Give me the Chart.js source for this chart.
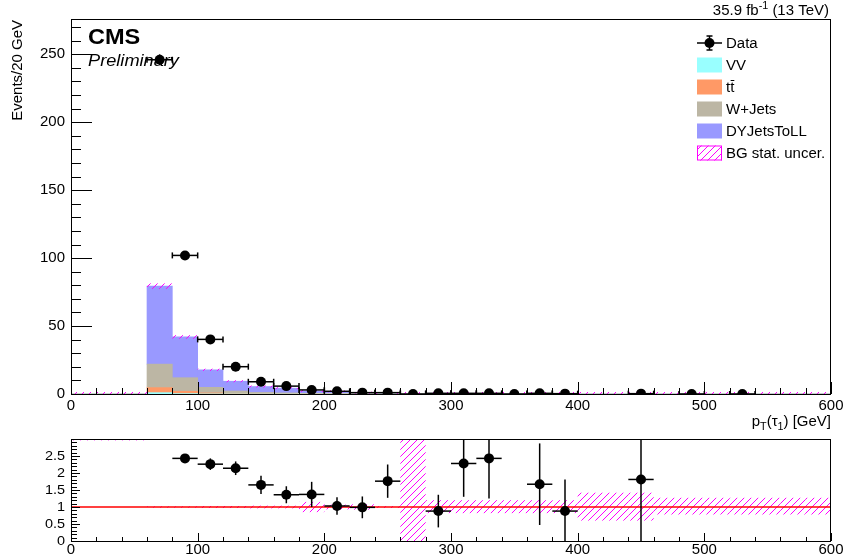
<!DOCTYPE html>
<html><head><meta charset="utf-8">
<script src="https://cdn.jsdelivr.net/npm/chart.js@4.4.0/dist/chart.umd.min.js"></script>
<style>
html,body{margin:0;padding:0;background:#fff;}
body{width:846px;height:558px;position:relative;overflow:hidden;}
canvas{position:absolute;left:0;display:block;}
#main{top:0;} #ratio{top:430px;}
</style></head><body>
<canvas id="main" width="846" height="430"></canvas>
<canvas id="ratio" width="846" height="128"></canvas>
<script>
// ---------------- DATA ----------------
const binCenters = [10,30,50,70,90,110,130,150,170,190,210,230,250,270,290,310,330,350,370,390,410,430,450,470,490,510,530,550,570,590];
const binHalfWidth = 10;
const vv    = [0,0,0,1.0,0.3,0.1,0.1,0.05,0.05,0,0,0,0,0,0,0,0,0,0,0,0,0,0,0,0,0,0,0,0,0];
const ttbar = [0,0,0,3.7,1.7,0.7,0.3,0.2,0.15,0.1,0.05,0.05,0,0,0,0,0,0,0,0,0,0,0,0,0,0,0,0,0,0];
const wjets = [0,0,0,17.3,10,4.1,1.8,0.9,0.6,0.4,0.3,0.15,0.1,0,0,0,0,0,0,0,0,0,0,0,0,0,0,0,0,0];
const dyjets= [0,0,0,57.4,30,12.9,7.2,4.35,3.5,1.7,1.6,0.8,0.45,0.03,0.57,0.22,0.21,0.15,0.3,0.28,0.1,0.1,0.14,0.08,0.08,0.08,0.08,0.08,0.08,0.08];
const mcStatErr = [0,0,0,2.0,1.3,0.8,0.5,0.3,0.25,0.3,0.12,0.1,0.05,0.05,0.1,0.05,0.05,0.04,0.06,0.06,0.04,0.04,0.06,0.03,0.03,0.03,0.03,0.03,0.03,0.03];

const dataX   = [70,90,110,130,150,170,190,210,230,250,270,290,310,330,350,370,390,450,490,530];
const dataY   = [246,102,40.2,20.1,9.0,5.8,3.0,2.0,1.0,1.0,0,0.5,0.5,0.5,0,0.5,0.25,0.25,0,0];
const dataErr = [4.0,1.9,1.2,0.8,0.6,0.5,0.5,0.8,0.6,0.6,0.3,0.5,0.5,0.5,0.3,0.5,0.25,0.25,0.3,0.3];

const ratioX     = [90,110,130,150,170,190,210,230,250,290,310,330,370,390,450];
const ratioY     = [2.43,2.26,2.14,1.65,1.36,1.37,1.03,0.99,1.76,0.88,2.28,2.43,1.67,0.88,1.81];
const ratioErrLo = [0.12,0.17,0.2,0.27,0.25,0.37,0.26,0.32,0.49,0.48,0.98,1.18,1.2,0.93,1.81];
const ratioErrHi = [0.12,0.17,0.2,0.27,0.25,0.37,0.26,0.32,0.49,0.48,1.5,1.5,1.2,0.93,1.9];
const bandLo = [2.96,2.96,2.96,0.98,0.98,0.97,0.97,0.96,0.96,0.85,0.93,0.92,0.97,0,0.82,0.82,0.82,0.82,0.82,0.82,0.6,0.6,0.6,0.78,0.78,0.78,0.78,0.78,0.78,0.78];
const bandHi = [3.3,3.3,3.3,1.02,1.02,1.03,1.03,1.04,1.04,1.15,1.07,1.08,1.03,3.3,1.2,1.2,1.2,1.2,1.2,1.2,1.42,1.42,1.42,1.27,1.27,1.27,1.27,1.27,1.27,1.27];

const mainYTicks = [0,50,100,150,200,250];
const xTicks = [0,100,200,300,400,500,600];
const ratioYTicks = [0,0.5,1,1.5,2,2.5];
const ratioYLabels = ['0','0.5','1','1.5','2','2.5'];

const legendLabels = ['Data','VV','tt','W+Jets','DYJetsToLL','BG stat. uncer.'];
// -----------------------------------------------------------------------

const FONT = '"Liberation Sans", Arial, Helvetica, sans-serif';
const HS = 1.07;
const COL = {vv:'#99ffff', tt:'#ff9966', w:'#bcb6a4', dy:'#9999ff', hatch:'#ff00ff'};

function drawText(ctx, s, x, y, size, o={}) {
  const align=o.align||'left', base=o.baseline||'alphabetic';
  ctx.save();
  ctx.font = `${o.style||''} ${o.weight||''} ${size}px ${FONT}`;
  ctx.fillStyle = o.color||'#000'; ctx.textBaseline = base; ctx.textAlign='left';
  const w = ctx.measureText(s).width*HS;
  const x0 = align==='right'? x-w : align==='center'? x-w/2 : x;
  ctx.translate(x0,y); ctx.scale(HS,1); ctx.fillText(s,0,0);
  ctx.restore();
  return w;
}
function drawRich(ctx, parts, x, y, size, align) {
  ctx.save();
  const items = parts.map(p=>{
    const sz = p[1] ? size*0.72 : size;
    ctx.font = `${sz}px ${FONT}`;
    return {t:p[0], k:p[1], sz, w:ctx.measureText(p[0]).width*HS};
  });
  ctx.restore();
  const tot = items.reduce((a,b)=>a+b.w,0);
  let cx = align==='right'? x-tot : x;
  items.forEach(it=>{
    const dy = it.k==='sub' ? size*0.3 : it.k==='sup' ? -size*0.4 : 0;
    drawText(ctx, it.t, cx, y+dy, it.sz);
    cx += it.w;
  });
}
function makeHatch(ctx) {
  const n=7;
  const c = document.createElement('canvas'); c.width=n; c.height=n;
  const g = c.getContext('2d'); g.strokeStyle=COL.hatch; g.lineWidth=1;
  g.beginPath(); g.moveTo(0,n); g.lineTo(n,0); g.moveTo(-1,1); g.lineTo(1,-1); g.moveTo(n-1,n+1); g.lineTo(n+1,n-1); g.stroke();
  return ctx.createPattern(c,'repeat');
}
function line(ctx,x1,y1,x2,y2){ctx.beginPath();ctx.moveTo(x1,y1);ctx.lineTo(x2,y2);ctx.stroke();}

const bar = (arr,label,color)=>({type:'bar',label,stack:'mc',data:binCenters.map((c,i)=>({x:c,y:arr[i]})),
  backgroundColor:color,borderWidth:0,barPercentage:1,categoryPercentage:1});

// ---------------- main panel ----------------
const mainPlugin = {
  id:'mainDecor',
  beforeDatasetDraw(chart,args){
    if(args.index!==0) return;
    const {ctx,chartArea:a,scales:{x,y}} = chart;
    ctx.save(); ctx.beginPath(); ctx.rect(a.left,a.top,a.right-a.left,a.bottom-a.top+1); ctx.clip();
    ctx.fillStyle = makeHatch(ctx);
    binCenters.forEach((c,i)=>{
      const tot = vv[i]+ttbar[i]+wjets[i]+dyjets[i];
      let yt = y.getPixelForValue(tot+mcStatErr[i]), yb = y.getPixelForValue(tot-mcStatErr[i]);
      if (yb-yt<2){const m=(yt+yb)/2; yt=m-1; yb=m+1; if(yb>a.bottom){yb=a.bottom;yt=a.bottom-2;}}
      const xl = x.getPixelForValue(c-binHalfWidth), xr = x.getPixelForValue(c+binHalfWidth);
      ctx.fillRect(xl,yt,xr-xl,yb-yt);
    });
    ctx.restore();
  },
  afterDatasetsDraw(chart){
    const {ctx,chartArea:a,scales:{x,y}} = chart;
    ctx.save(); ctx.beginPath(); ctx.rect(a.left,a.top,a.right-a.left,a.bottom-a.top); ctx.clip();
    ctx.strokeStyle='#000'; ctx.lineWidth=1.5;
    dataX.forEach((c,i)=>{
      const px=x.getPixelForValue(c), py=y.getPixelForValue(dataY[i]);
      const xl=x.getPixelForValue(c-binHalfWidth), xr=x.getPixelForValue(c+binHalfWidth);
      line(ctx,xl,py,xr,py); line(ctx,xl,py-3,xl,py+3); line(ctx,xr,py-3,xr,py+3);
      const yt=y.getPixelForValue(dataY[i]+dataErr[i]), yb=y.getPixelForValue(dataY[i]-dataErr[i]);
      line(ctx,px,yt,px,yb);
    });
    ctx.restore();
  },
  afterDraw(chart){
    const {ctx,chartArea:a,scales:{x,y}} = chart;
    ctx.save();
    ctx.strokeStyle='#000'; ctx.lineWidth=1;
    ctx.strokeRect(a.left+0.5,a.top+0.5,a.right-a.left-1,a.bottom-a.top);
    for(let v=0; v<=270; v+=10){
      const py=Math.round(y.getPixelForValue(v))+0.5, L = v%50===0?21:10;
      line(ctx,a.left,py,a.left+L,py);
    }
    for(let v=0; v<=600; v+=20){
      const px=Math.round(x.getPixelForValue(v))+0.5, L = v%100===0?12:6;
      line(ctx,px,a.bottom,px,a.bottom-L);
    }
    mainYTicks.forEach(v=>drawText(ctx,String(v),65,y.getPixelForValue(v),14,{align:'right',baseline:'middle'}));
    xTicks.forEach(v=>drawText(ctx,String(v),x.getPixelForValue(v),406,14,{align:'center',baseline:'middle'}));
    drawRich(ctx,[['p',''],['T','sub'],['(τ',''],['1','sub'],[') [GeV]','']],831,426,14,'right');
    ctx.save(); ctx.translate(18,20); ctx.rotate(-Math.PI/2);
    drawText(ctx,'Events/20 GeV',0,0,14,{align:'right',baseline:'middle'});
    ctx.restore();
    drawText(ctx,'CMS',88,44,22,{weight:'bold'});
    drawText(ctx,'Preliminary',88,66,17,{style:'italic'});
    drawRich(ctx,[['35.9 fb',''],['-1','sup'],[' (13 TeV)','']],829,15,14,'right');
    // legend
    const rows=[43,65,87,109,131,153], bx=697, bw=25, bh=15, tx=726;
    let yc=rows[0];
    ctx.lineWidth=1.5; line(ctx,bx,yc,bx+bw,yc); line(ctx,bx+bw/2,yc-7,bx+bw/2,yc+7);
    line(ctx,bx+bw/2-3,yc-7,bx+bw/2+3,yc-7); line(ctx,bx+bw/2-3,yc+7,bx+bw/2+3,yc+7);
    ctx.fillStyle='#000'; ctx.beginPath(); ctx.arc(bx+bw/2,yc,5,0,Math.PI*2); ctx.fill();
    const fills=[COL.vv,COL.tt,COL.w,COL.dy];
    fills.forEach((f,i)=>{ctx.fillStyle=f; ctx.fillRect(bx,rows[i+1]-bh/2,bw,bh);});
    yc=rows[5];
    ctx.fillStyle='#fff'; ctx.fillRect(bx,yc-bh/2,bw,bh);
    ctx.fillStyle=makeHatch(ctx); ctx.fillRect(bx,yc-bh/2,bw,bh);
    ctx.strokeStyle=COL.hatch; ctx.lineWidth=1; ctx.strokeRect(bx+0.5,yc-bh/2+0.5,bw-1,bh-1);
    ctx.strokeStyle='#000';
    legendLabels.forEach((s,i)=>{
      const w = drawText(ctx,s,tx,rows[i]+5,14);
      if(s==='tt'){ const half=w/2; ctx.lineWidth=1; line(ctx,tx+half+0.5,rows[i]-6.5,tx+w,rows[i]-6.5); }
    });
    ctx.restore();
  }
};

new Chart(document.getElementById('main'),{
  type:'bar',
  data:{datasets:[
    {type:'scatter',label:'Data',stack:'data',data:dataX.map((c,i)=>({x:c,y:dataY[i]})),
     backgroundColor:'#000',borderWidth:0,pointRadius:5,showLine:false},
    bar(vv,'VV',COL.vv), bar(ttbar,'tt',COL.tt), bar(wjets,'W+Jets',COL.w), bar(dyjets,'DYJetsToLL',COL.dy)
  ]},
  options:{
    responsive:false, animation:false, events:[],
    layout:{padding:{top:19,right:15,left:0,bottom:0}},
    plugins:{legend:{display:false},tooltip:{enabled:false}},
    scales:{
      x:{type:'linear',min:0,max:600,offset:false,stacked:true,grid:{display:false,drawTicks:false},border:{display:false},ticks:{display:false},afterFit(s){s.height=36;}},
      y:{type:'linear',min:0,max:276,stacked:true,grid:{display:false,drawTicks:false},border:{display:false},ticks:{display:false},afterFit(s){s.width=71;}}
    }
  },
  plugins:[mainPlugin]
});

// ---------------- ratio panel ----------------
const ratioPlugin = {
  id:'ratioDecor',
  beforeDatasetsDraw(chart){
    const {ctx,chartArea:a,scales:{x,y}} = chart;
    ctx.save(); ctx.beginPath(); ctx.rect(a.left,a.top,a.right-a.left,a.bottom-a.top); ctx.clip();
    ctx.fillStyle = makeHatch(ctx);
    binCenters.forEach((c,i)=>{
      const yt=y.getPixelForValue(bandHi[i]), yb=y.getPixelForValue(bandLo[i]);
      const xl=x.getPixelForValue(c-binHalfWidth), xr=x.getPixelForValue(c+binHalfWidth);
      ctx.fillRect(xl,yt,xr-xl,yb-yt);
    });
    ctx.restore();
  },
  afterDatasetsDraw(chart){
    const {ctx,chartArea:a,scales:{x,y}} = chart;
    ctx.save(); ctx.beginPath(); ctx.rect(a.left,a.top,a.right-a.left,a.bottom-a.top); ctx.clip();
    ctx.strokeStyle='#000'; ctx.lineWidth=1.5;
    ratioX.forEach((c,i)=>{
      const px=x.getPixelForValue(c), py=y.getPixelForValue(ratioY[i]);
      line(ctx,x.getPixelForValue(c-binHalfWidth),py,x.getPixelForValue(c+binHalfWidth),py);
      line(ctx,px,y.getPixelForValue(ratioY[i]+ratioErrHi[i]),px,y.getPixelForValue(ratioY[i]-ratioErrLo[i]));
    });
    ctx.restore();
  },
  afterDraw(chart){
    const {ctx,chartArea:a,scales:{x,y}} = chart;
    ctx.save(); ctx.strokeStyle='#000'; ctx.lineWidth=1;
    ctx.strokeRect(a.left+0.5,a.top+0.5,a.right-a.left-1,a.bottom-a.top);
    for(let k=0;k<=30;k++){
      const v=k/10, py=Math.round(y.getPixelForValue(v))+0.5, L=k%5===0?9:6;
      line(ctx,a.left,py,a.left+L,py);
    }
    for(let v=0; v<=600; v+=20){
      const px=Math.round(x.getPixelForValue(v))+0.5, L=v%100===0?8:4;
      line(ctx,px,a.bottom,px,a.bottom-L);
    }
    ratioYTicks.forEach((v,i)=>drawText(ctx,ratioYLabels[i],65,y.getPixelForValue(v),13.5,{align:'right',baseline:'middle'}));
    xTicks.forEach(v=>drawText(ctx,String(v),x.getPixelForValue(v),120,14,{align:'center',baseline:'middle'}));
    ctx.restore();
  }
};

new Chart(document.getElementById('ratio'),{
  type:'scatter',
  data:{datasets:[
    {label:'Data/MC',data:ratioX.map((c,i)=>({x:c,y:ratioY[i]})),backgroundColor:'#000',borderWidth:0,pointRadius:5,showLine:false},
    {type:'line',label:'unity',data:[{x:0,y:1},{x:600,y:1}],borderColor:'#ff0000',borderWidth:1.5,pointRadius:0,fill:false}
  ]},
  options:{
    responsive:false, animation:false, events:[],
    layout:{padding:{top:9,right:15,left:0,bottom:0}},
    plugins:{legend:{display:false},tooltip:{enabled:false}},
    scales:{
      x:{type:'linear',min:0,max:600,grid:{display:false,drawTicks:false},border:{display:false},ticks:{display:false},afterFit(s){s.height=17;}},
      y:{type:'linear',min:0,max:3,grid:{display:false,drawTicks:false},border:{display:false},ticks:{display:false},afterFit(s){s.width=71;}}
    }
  },
  plugins:[ratioPlugin]
});
</script></body></html>
